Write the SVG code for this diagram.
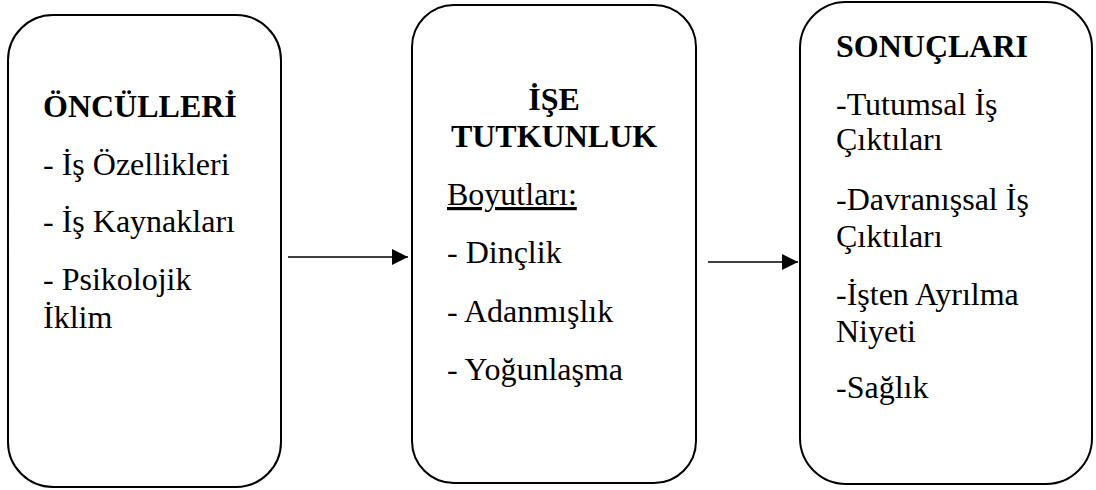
<svg xmlns="http://www.w3.org/2000/svg" width="1096" height="490" viewBox="0 0 1096 490">
<style>
.box{fill:#fff;stroke:#000;stroke-width:2}
text{font-family:"Liberation Serif","Times New Roman",serif;font-size:32px;fill:#000}
.b{font-weight:bold}
.conn{stroke:#000;stroke-width:1.5;fill:none}
</style>
<defs>
<marker id="ah" viewBox="0 0 10 10" refX="10" refY="5" markerWidth="10" markerHeight="10" markerUnits="userSpaceOnUse" orient="auto">
<path d="M0,0 L10,5 L0,10 Z" fill="#000"/>
</marker>
<marker id="ah2" viewBox="0 0 16 16" refX="16" refY="8" markerWidth="16" markerHeight="16" markerUnits="userSpaceOnUse" orient="auto">
<path d="M0,0 L16,8 L0,16 Z" fill="#000"/>
</marker>
</defs>
<rect width="1096" height="490" fill="#fff"/>
<g id="node-onculleri">
<rect class="box" x="8" y="15" width="273" height="472" rx="45" ry="45"/>
<text class="b" x="43" y="117">ÖNCÜLLERİ</text>
<text x="43" y="175">- İş Özellikleri</text>
<text x="43" y="232">- İş Kaynakları</text>
<text x="43" y="290">- Psikolojik</text>
<text x="43" y="328">İklim</text>
</g>
<g id="node-ise-tutkunluk">
<rect class="box" x="412" y="5" width="284" height="478" rx="42" ry="42"/>
<text class="b" x="554" y="110" text-anchor="middle">İŞE</text>
<text class="b" x="554" y="147" text-anchor="middle">TUTKUNLUK</text>
<text x="447" y="205" text-decoration="underline">Boyutları:</text>
<text x="447" y="263">- Dinçlik</text>
<text x="447" y="322">- Adanmışlık</text>
<text x="447" y="380">- Yoğunlaşma</text>
</g>
<g id="node-sonuclari">
<rect class="box" x="800" y="2" width="292" height="482" rx="46" ry="46"/>
<text class="b" x="836" y="57">SONUÇLARI</text>
<text x="836" y="115">-Tutumsal İş</text>
<text x="836" y="150">Çıktıları</text>
<text x="836" y="210">-Davranışsal İş</text>
<text x="836" y="247">Çıktıları</text>
<text x="836" y="305">-İşten Ayrılma</text>
<text x="836" y="342">Niyeti</text>
<text x="836" y="398">-Sağlık</text>
</g>
<g id="connectors">
<line class="conn" x1="288" y1="257" x2="408" y2="257" marker-end="url(#ah2)"/>
<line class="conn" x1="708" y1="262" x2="798" y2="262" marker-end="url(#ah2)"/>
</g>
</svg>
